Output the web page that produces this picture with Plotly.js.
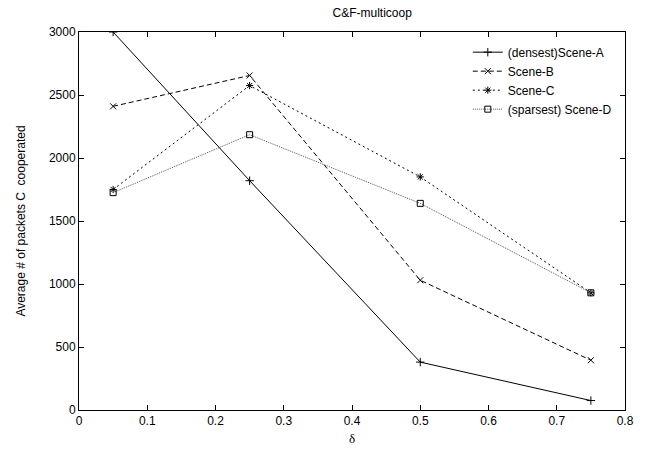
<!DOCTYPE html>
<html><head><meta charset="utf-8">
<script src="https://cdn.plot.ly/plotly-3.0.1.min.js"></script>
<style>body{margin:0;background:#fff}#c{width:649px;height:450px}</style>
</head><body><div id="c"></div>
<script>
const delta = [0.05, 0.25, 0.5, 0.75];
const sceneA = [3000, 1820, 380, 75];
const sceneB = [2410, 2655, 1030, 395];
const sceneC = [1750, 2575, 1850, 930];
const sceneD = [1725, 2185, 1640, 930];
const names = ['(densest)Scene-A', 'Scene-B', 'Scene-C', '(sparsest) Scene-D'];

const F = 'Liberation Sans, Arial, sans-serif';
function tr(y, name, dash, sym, col){
  return {x: delta, y: y, name: name, mode: 'lines+markers', type: 'scatter',
    line: {color: col, width: 1, dash: dash},
    marker: {symbol: sym, size: 6, color: '#000', line: {color: '#000', width: 1}}};
}
const data = [
  tr(sceneA, names[0], 'solid', 'cross-thin-open', '#000'),
  tr(sceneB, names[1], '5px,3px', 'x-thin-open', '#000'),
  tr(sceneC, names[2], '2px,3px', 'asterisk-open', '#000'),
  tr(sceneD, names[3], '1px,1px', 'square-open', '#555')
];
const layout = {
  width: 649, height: 450,
  margin: {l: 79, r: 24, t: 32, b: 40},
  paper_bgcolor: '#fff', plot_bgcolor: '#fff',
  font: {family: F, size: 12, color: '#000'},
  title: {text: 'C&F-multicoop', x: 0.537, xref: 'paper', xanchor: 'center', y: 0.982, yanchor: 'top', font: {family: F, size: 12}},
  xaxis: {range: [0, 0.8], dtick: 0.1, tick0: 0, showgrid: false, zeroline: false,
    showline: true, mirror: 'ticks', linecolor: '#000', linewidth: 1,
    ticks: 'inside', ticklen: 5, tickcolor: '#000', tickformat: '.1~f',
    title: {text: 'δ', font: {family: 'Liberation Serif, serif', size: 13}, standoff: 6}},
  yaxis: {range: [0, 3000], dtick: 500, showgrid: false, zeroline: false,
    showline: true, mirror: 'ticks', linecolor: '#000', linewidth: 1,
    ticks: 'inside', ticklen: 5, tickcolor: '#000',
    title: {text: 'Average # of packets C  cooperated', font: {family: F, size: 12}, standoff: 20}},
  legend: {x: 0.985, xanchor: 'right', y: 0.985, yanchor: 'top', bgcolor: 'rgba(0,0,0,0)',
    font: {family: F, size: 12}, tracegroupgap: 0, itemwidth: 30},
  showlegend: true
};
Plotly.newPlot('c', data, layout, {displayModeBar: false, staticPlot: true});
</script></body></html>
